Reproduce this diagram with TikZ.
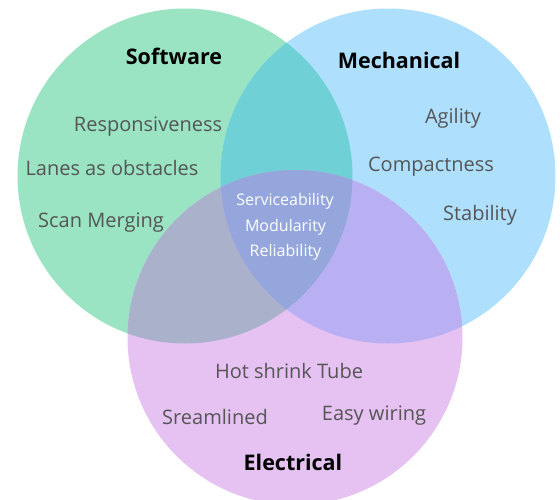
\documentclass[tikz,border=0pt]{standalone}
\usepackage{fontspec}
\setmainfont{Open Sans}
\definecolor{cG}{HTML}{9AE4C3}
\definecolor{cB}{HTML}{AEE0FD}
\definecolor{cP}{HTML}{E6C2F2}
\definecolor{cGB}{HTML}{6FD1D6}
\definecolor{cGP}{HTML}{A9B1CB}
\definecolor{cBP}{HTML}{B8B0F2}
\definecolor{cGBP}{HTML}{94A6DB}
\definecolor{txt}{HTML}{555555}
\tikzset{
  item/.style={text=txt,font=\fontsize{20}{22}\selectfont,inner sep=0pt,anchor=base,yshift=-7pt},
  inner/.style={text=white,font=\fontsize{16}{18}\selectfont,inner sep=0pt,anchor=base,yshift=-5.5pt},
  title/.style={text=black,font=\bfseries\fontsize{21.5}{24}\selectfont,inner sep=0pt,anchor=base,yshift=-7.5pt}
}
\begin{document}
\begin{tikzpicture}[x=1pt,y=-1pt]
\useasboundingbox (0,0) rectangle (560,499);
\begin{scope}
\clip (0,0) rectangle (560,499);
\def\Gc{(185,176) circle (167.5)}
\def\Bc{(388,176) circle (167.5)}
\def\Pc{(295,337.5) circle (167.5)}
\fill[cG] \Gc;
\fill[cB] \Bc;
\fill[cP] \Pc;
\begin{scope}\clip \Gc; \fill[cGB] \Bc; \fill[cGP] \Pc; \end{scope}
\begin{scope}\clip \Bc; \fill[cBP] \Pc; \end{scope}
\begin{scope}\clip \Gc; \clip \Bc; \fill[cGBP] \Pc; \end{scope}
\end{scope}
\node[title] (sw) at (174,57) {Software};
\node[title] (me) at (399,61) {Mechanical};
\node[title] (el) at (293,463) {Electrical};
\node[item] (resp) at (148,124) {Responsiveness};
\node[item] (lanes) at (112,168) {Lanes as obstacles};
\node[item] (scan) at (101,220) {Scan Merging};
\node[item] (agil) at (453,116) {Agility};
\node[item] (comp) at (431,164) {Compactness};
\node[item] (stab) at (480,213) {Stability};
\node[inner] (serv) at (285,200) {Serviceability};
\node[inner] (modu) at (285.5,226) {Modularity};
\node[inner] (reli) at (285.5,251) {Reliability};
\node[item] (hot) at (289,371) {Hot shrink Tube};
\node[item] (srea) at (215,417) {Sreamlined};
\node[item] (easy) at (374,413) {Easy wiring};
\end{tikzpicture}
\end{document}
